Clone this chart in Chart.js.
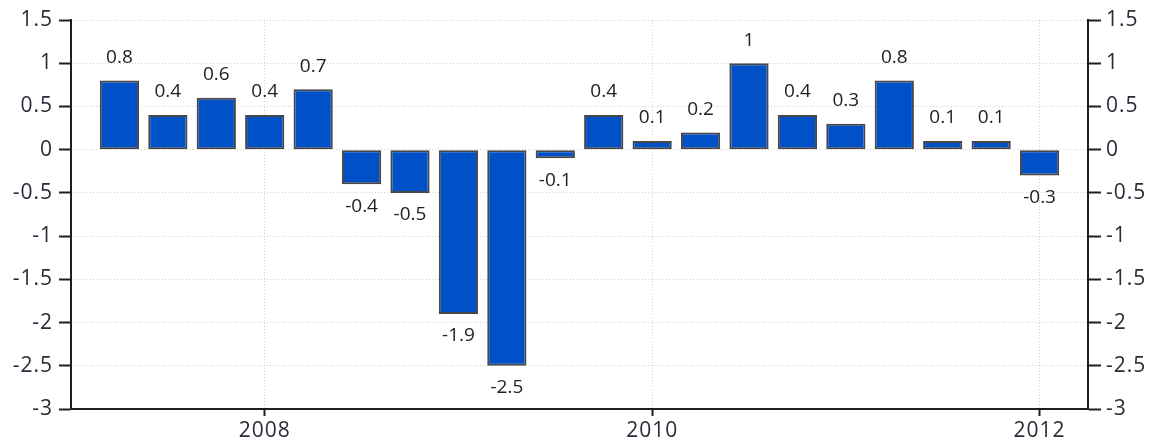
<!DOCTYPE html>
<html>
<head>
<meta charset="utf-8">
<script src="https://cdn.jsdelivr.net/npm/chart.js@4/dist/chart.umd.min.js"></script>
<style>
html,body{margin:0;padding:0;background:#fff;}
#wrap{width:1165px;height:444px;position:relative;}
</style>
</head>
<body>
<div id="wrap"><canvas id="c"></canvas></div>
<script>
// Quarters (padded with empty slots at both ends, as in the reference)
const categories = ['', '2007 Q1','2007 Q2','2007 Q3','2007 Q4',
  '2008 Q1','2008 Q2','2008 Q3','2008 Q4',
  '2009 Q1','2009 Q2','2009 Q3','2009 Q4',
  '2010 Q1','2010 Q2','2010 Q3','2010 Q4',
  '2011 Q1','2011 Q2','2011 Q3','2011 Q4', ''];
const values = [null, 0.8, 0.4, 0.6, 0.4, 0.7, -0.4, -0.5, -1.9, -2.5, -0.1,
  0.4, 0.1, 0.2, 1, 0.4, 0.3, 0.8, 0.1, 0.1, -0.3, null];
const xTickLabels = ['', '', '', '', '2008', '', '', '', '', '', '', '', '2010',
  '', '', '', '', '', '', '', '2012', ''];
const yMin = -3, yMax = 1.5, yStep = 0.5;

const FONT = "'Open Sans', sans-serif";
const TXT = '#2a2a3a';
const AXIS = '#1e1e1e';

const spacing = {
  id: 'spacing',
  beforeDraw(chart) { chart.ctx.letterSpacing = '1px'; },
  beforeLayout(chart) { chart.ctx.letterSpacing = '1px'; }
};

const valueLabels = {
  id: 'valueLabels',
  afterDatasetsDraw(chart) {
    const ctx = chart.ctx;
    const meta = chart.getDatasetMeta(0);
    ctx.save();
    ctx.letterSpacing = '0px';
    ctx.font = '19px ' + FONT;
    ctx.fillStyle = '#222';
    ctx.textAlign = 'center';
    ctx.textBaseline = 'middle';
    meta.data.forEach((bar, i) => {
      const v = values[i];
      if (v === null || v === undefined) return;
      const y = v >= 0 ? bar.y - 23 : bar.y + 22;
      ctx.fillText(String(v), bar.x, y);
    });
    ctx.restore();
  }
};

new Chart(document.getElementById('c'), {
  type: 'bar',
  data: {
    labels: categories,
    datasets: [{
      data: values,
      backgroundColor: '#0050c8',
      borderColor: '#474747',
      borderWidth: 2,
      borderSkipped: false,
      barPercentage: 1,
      categoryPercentage: 0.81
    }]
  },
  options: {
    responsive: true,
    maintainAspectRatio: false,
    animation: false,
    layout: { padding: { top: 20, left: 0, right: 0, bottom: 0 } },
    plugins: { legend: { display: false }, tooltip: { enabled: false } },
    scales: {
      x: {
        offset: false,
        grid: {
          offset: false,
          color: (c) => (xTickLabels[c.index] ? '#cfcfcf' : 'rgba(0,0,0,0)'),
          tickColor: (c) => (xTickLabels[c.index] ? AXIS : 'rgba(0,0,0,0)'),
          tickWidth: 2,
          tickLength: 7,
          tickBorderDash: [],
          lineWidth: 1
        },
        border: { display: true, color: AXIS, width: 2, dash: [1, 2] },
        ticks: {
          autoSkip: false,
          maxRotation: 0,
          padding: 2,
          color: TXT,
          font: { family: FONT, size: 21 },
          callback: (v, i) => xTickLabels[i]
        },
        afterFit: (s) => { s.height = 35; }
      },
      y: {
        position: 'left',
        min: yMin, max: yMax,
        grid: {
          color: '#cfcfcf',
          lineWidth: 1,
          tickColor: AXIS,
          tickWidth: 2,
          tickLength: 12,
          tickBorderDash: []
        },
        border: { display: true, color: AXIS, width: 2, dash: [1, 2] },
        ticks: {
          stepSize: yStep,
          padding: 6,
          color: TXT,
          font: { family: FONT, size: 21 },
          callback: (v) => String(v)
        },
        afterFit: (s) => { s.width = 71; }
      },
      y2: {
        position: 'right',
        min: yMin, max: yMax,
        grid: {
          drawOnChartArea: false,
          tickColor: AXIS,
          tickWidth: 2,
          tickLength: 13,
          tickBorderDash: []
        },
        border: { display: true, color: AXIS, width: 2 },
        ticks: {
          stepSize: yStep,
          padding: 5,
          color: TXT,
          font: { family: FONT, size: 21 },
          callback: (v) => String(v)
        },
        afterFit: (s) => { s.width = 77; }
      }
    }
  },
  plugins: [spacing, valueLabels]
});
</script>
</body>
</html>
